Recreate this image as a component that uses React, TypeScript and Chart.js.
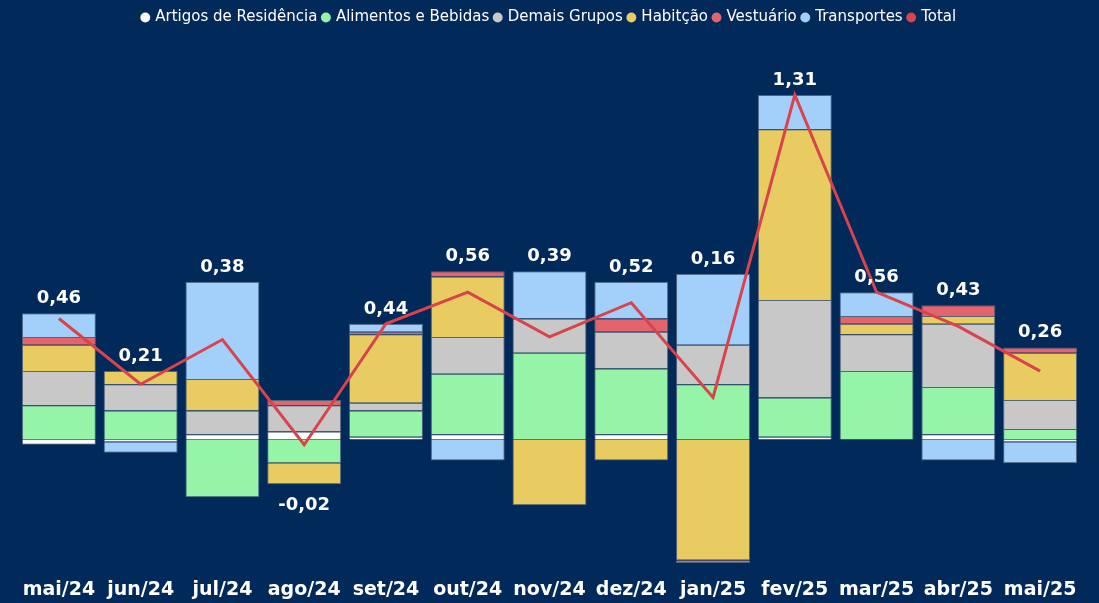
import React, { useEffect, useRef } from 'react';
import { Chart, registerables } from 'chart.js';

Chart.register(...registerables);

const categories = ['mai/24', 'jun/24', 'jul/24', 'ago/24', 'set/24', 'out/24', 'nov/24', 'dez/24', 'jan/25', 'fev/25', 'mar/25', 'abr/25', 'mai/25'];

const artigos = [-0.02, -0.01, 0.02, 0.03, 0.01, 0.02, 0, 0.02, 0, 0.01, 0, 0.02, -0.01];
const alimentos = [0.13, 0.11, -0.22, -0.09, 0.10, 0.23, 0.33, 0.25, 0.21, 0.15, 0.26, 0.18, 0.04];
const demais = [0.13, 0.10, 0.09, 0.10, 0.03, 0.14, 0.13, 0.14, 0.15, 0.37, 0.14, 0.24, 0.11];
const habitacao = [0.10, 0.05, 0.12, -0.08, 0.26, 0.23, -0.25, -0.08, -0.46, 0.65, 0.04, 0.03, 0.18];
const vestuario = [0.03, 0, 0, 0.02, 0.01, 0.02, 0, 0.05, -0.01, 0, 0.03, 0.04, 0.02];
const transportes = [0.09, -0.04, 0.37, 0, 0.03, -0.08, 0.18, 0.14, 0.27, 0.13, 0.09, -0.08, -0.08];
const totals = [0.46, 0.21, 0.38, -0.02, 0.44, 0.56, 0.39, 0.52, 0.16, 1.31, 0.56, 0.43, 0.26];

const seriesNames = ['Artigos de Residência', 'Alimentos e Bebidas', 'Demais Grupos', 'Habitção', 'Vestuário', 'Transportes'];
const seriesColors = ['#FFFFFF', '#96F4A8', '#C8C8C8', '#E8CC62', '#E4646D', '#A2D0FA'];
const totalName = 'Total';
const totalColor = '#D8434C';
const BG = '#01295A';

export default function App() {
  const ref = useRef<HTMLCanvasElement>(null);

  useEffect(() => {
    if (!ref.current) return;
    const barSeries = [artigos, alimentos, demais, habitacao, vestuario, transportes];

    const labelPlugin = {
      id: 'totalLabels',
      afterDatasetsDraw(chart: any) {
        const ctx = chart.ctx;
        const ys = chart.scales.y;
        const xs = chart.scales.x;
        ctx.save();
        ctx.font = 'bold 18px "DejaVu Sans"';
        ctx.fillStyle = '#FFFFFF';
        ctx.textAlign = 'center';
        categories.forEach((_, i) => {
          let pos = 0;
          let neg = 0;
          barSeries.forEach((s) => {
            const v = s[i];
            if (v > 0) pos += v;
            else neg += v;
          });
          const cx = xs.getPixelForValue(i);
          const t = totals[i];
          const txt = t.toFixed(2).replace('.', ',');
          if (t >= 0) {
            ctx.textBaseline = 'alphabetic';
            ctx.fillText(txt, cx, ys.getPixelForValue(pos) - 10);
          } else {
            ctx.textBaseline = 'top';
            ctx.fillText(txt, cx, ys.getPixelForValue(neg) + 12);
          }
        });
        ctx.restore();
      },
    };

    const datasets: any[] = barSeries.map((data, i) => ({
      type: 'bar',
      label: seriesNames[i],
      data,
      backgroundColor: seriesColors[i],
      borderColor: 'rgba(150,150,150,0.55)',
      borderWidth: 1,
      stack: 'ipca',
      order: 1,
      barPercentage: 0.905,
      categoryPercentage: 1,
    }));
    datasets.push({
      type: 'line',
      label: totalName,
      data: totals,
      borderColor: totalColor,
      backgroundColor: totalColor,
      borderWidth: 3,
      pointRadius: 0,
      tension: 0,
      stack: 'total',
      order: 0,
    });

    const allColors = [...seriesColors, totalColor];

    const chart = new Chart(ref.current, {
      type: 'bar',
      data: { labels: categories, datasets },
      options: {
        animation: false,
        responsive: false,
        layout: { padding: { top: 4, left: 18, right: 18, bottom: 0 } },
        plugins: {
          tooltip: { enabled: false },
          legend: {
            position: 'top',
            labels: {
              color: '#FFFFFF',
              font: { family: '"DejaVu Sans"', size: 15 },
              usePointStyle: true,
              boxWidth: 5,
              boxHeight: 7,
              padding: 6,
              generateLabels: () =>
                [...seriesNames, totalName].map((name, i) => ({
                  text: name,
                  fillStyle: allColors[i],
                  strokeStyle: allColors[i],
                  lineWidth: 0,
                  pointStyle: 'circle',
                  hidden: false,
                  datasetIndex: i,
                  fontColor: '#FFFFFF',
                })),
            },
          },
        },
        scales: {
          x: {
            stacked: true,
            grid: { display: false, drawTicks: false },
            border: { display: false },
            ticks: {
              color: '#FFFFFF',
              font: { family: '"DejaVu Sans"', size: 19, weight: 'bold' },
              padding: 8,
            },
            afterFit: (scale: any) => {
              scale.height = 32;
            },
          },
          y: {
            stacked: true,
            display: false,
            min: -0.5,
            max: 1.538,
          },
        },
      },
      plugins: [labelPlugin],
    });
    return () => chart.destroy();
  }, []);

  return (
    <div style={{ position: 'fixed', left: 0, top: 0, width: 1099, height: 603, background: BG }}>
      <canvas ref={ref} width={1099} height={603} style={{ display: 'block' }} />
    </div>
  );
}
